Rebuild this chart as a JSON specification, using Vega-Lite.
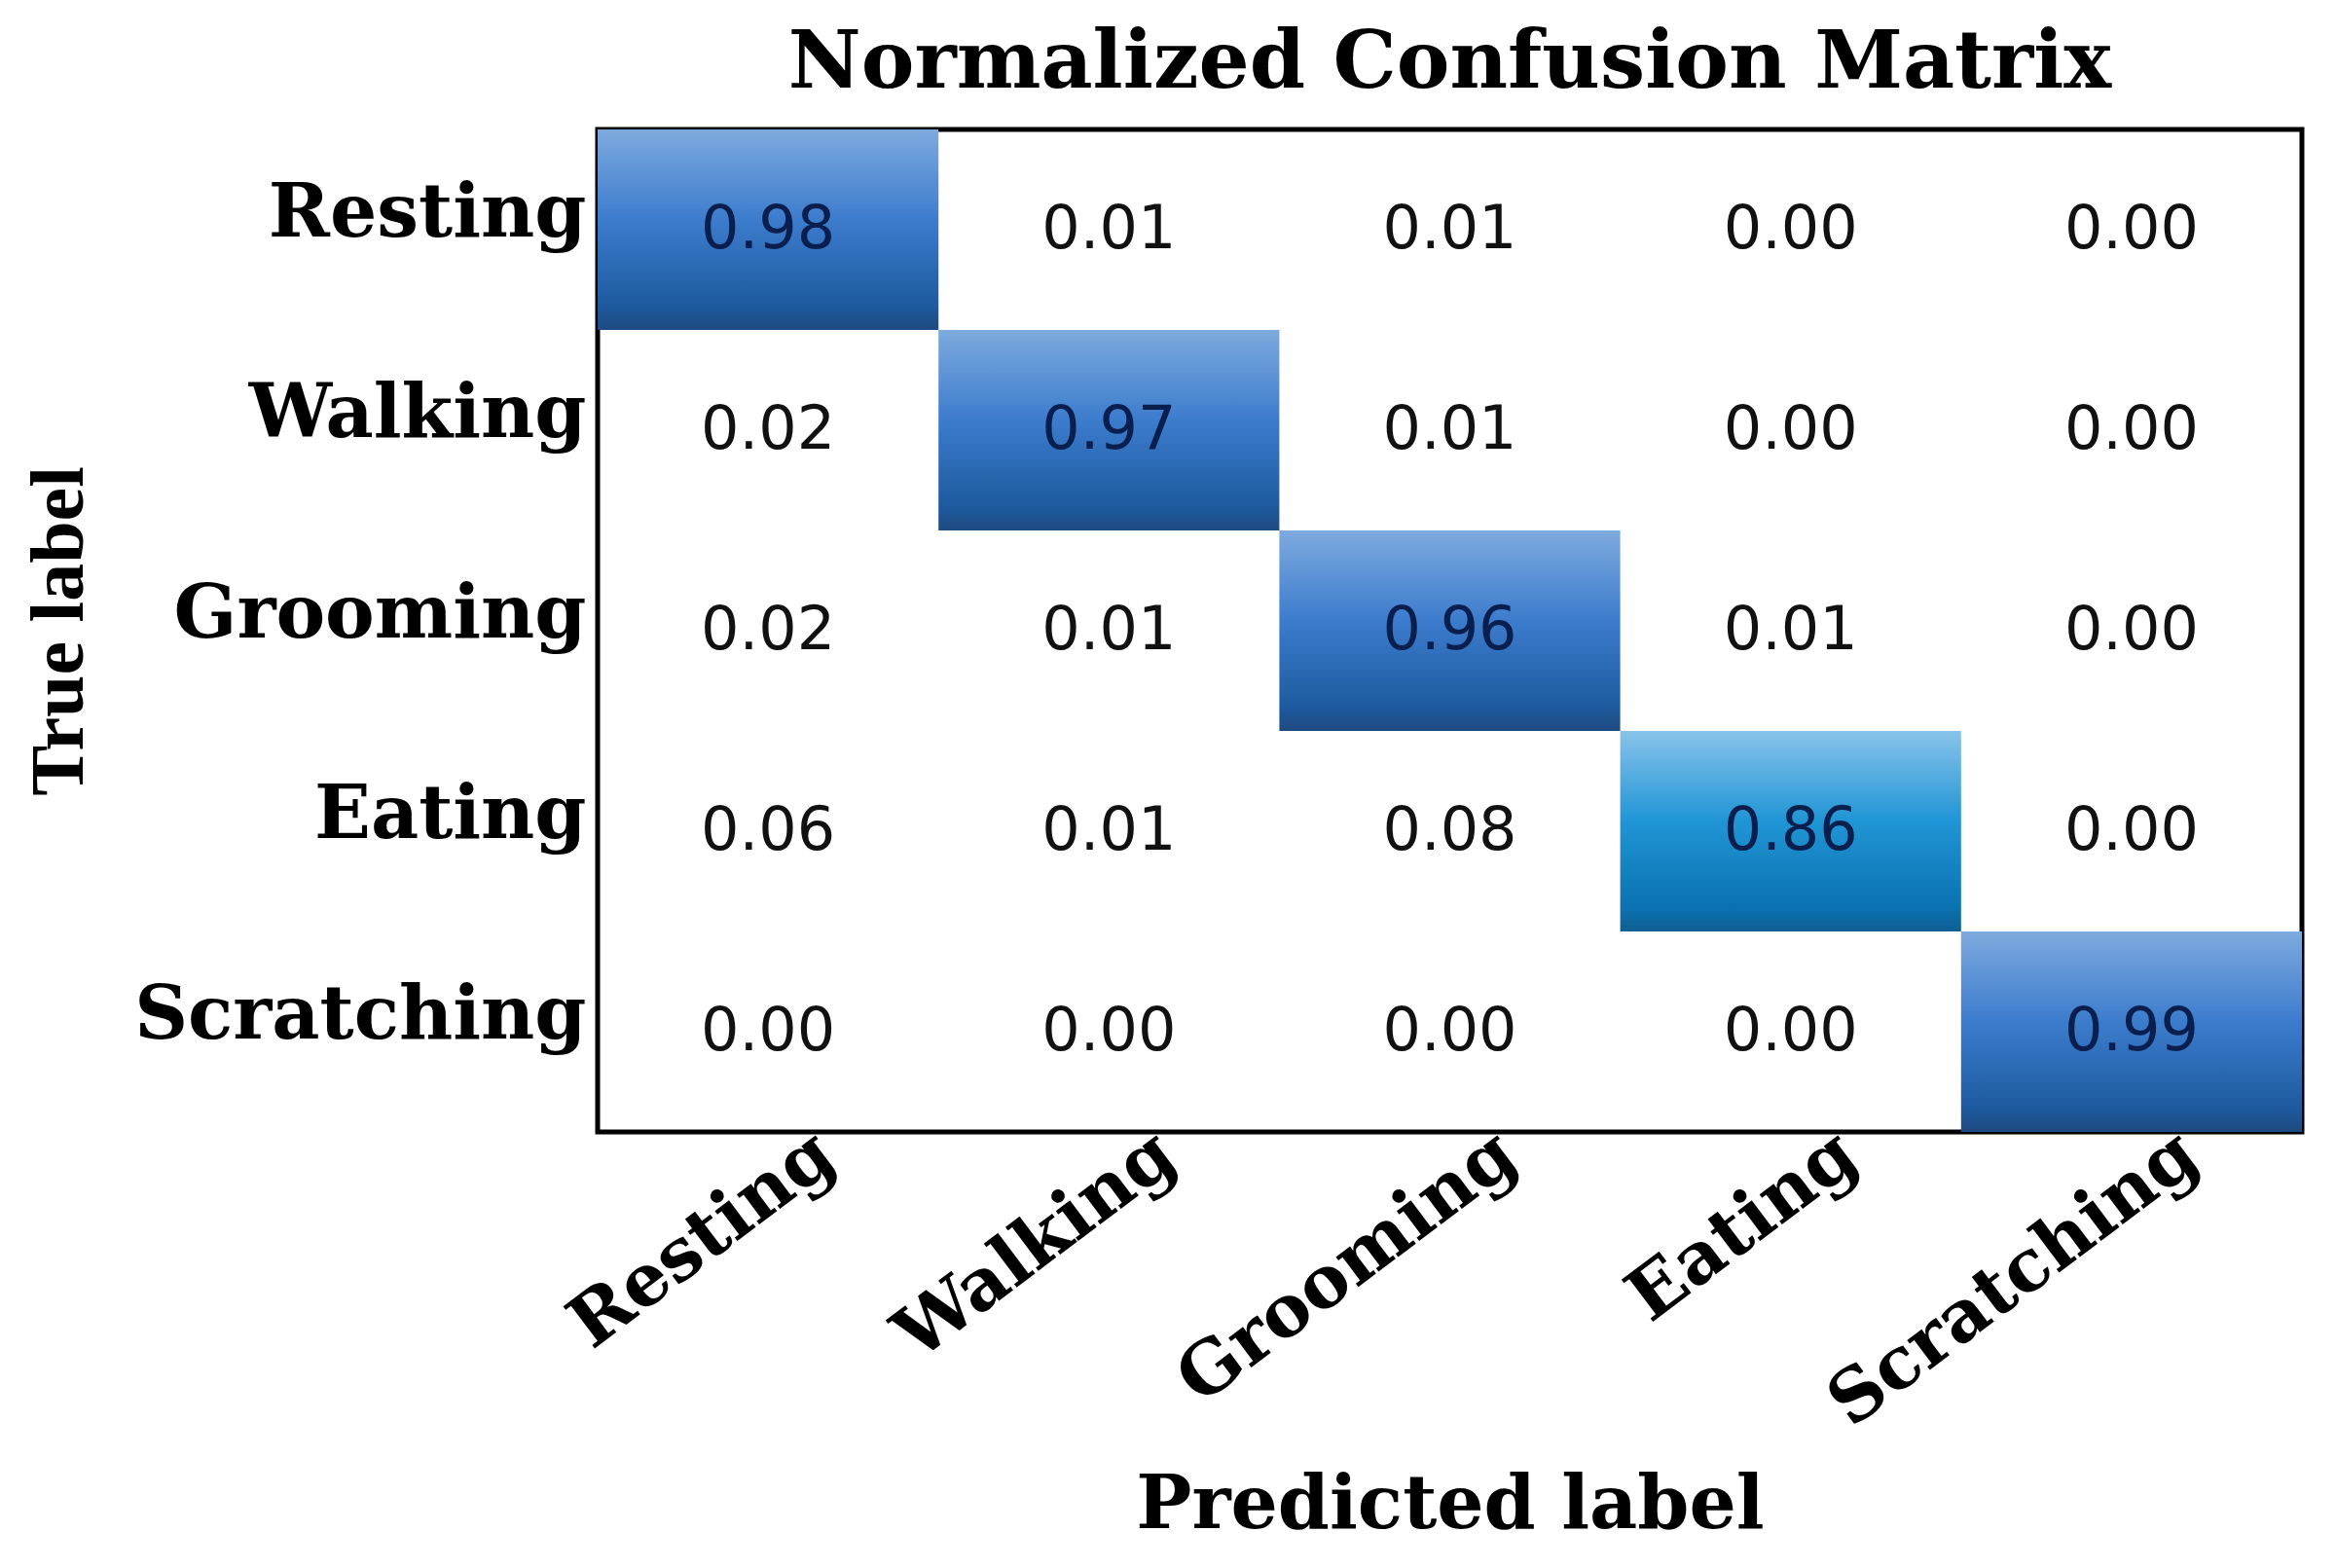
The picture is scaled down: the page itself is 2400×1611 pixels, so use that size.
{
  "$schema": "https://vega.github.io/schema/vega-lite/v6.json",
  "autosize": "none",
  "width": 1751,
  "height": 1030,
  "padding": {"left": 614, "top": 133, "right": 35, "bottom": 448},
  "background": "white",
  "title": {
    "text": "Normalized Confusion Matrix",
    "font": "DejaVu Serif",
    "fontWeight": "bold",
    "fontSize": 82,
    "color": "black",
    "anchor": "middle",
    "offset": 26
  },
  "config": {
    "view": {"stroke": "black", "strokeWidth": 5},
    "axis": {"domain": false, "ticks": false, "grid": false, "labelLimit": 1000}
  },
  "data": {
    "values": [
      {"true": "Resting", "pred": "Resting", "value": 0.98},
      {"true": "Resting", "pred": "Walking", "value": 0.01},
      {"true": "Resting", "pred": "Grooming", "value": 0.01},
      {"true": "Resting", "pred": "Eating", "value": 0.0},
      {"true": "Resting", "pred": "Scratching", "value": 0.0},
      {"true": "Walking", "pred": "Resting", "value": 0.02},
      {"true": "Walking", "pred": "Walking", "value": 0.97},
      {"true": "Walking", "pred": "Grooming", "value": 0.01},
      {"true": "Walking", "pred": "Eating", "value": 0.0},
      {"true": "Walking", "pred": "Scratching", "value": 0.0},
      {"true": "Grooming", "pred": "Resting", "value": 0.02},
      {"true": "Grooming", "pred": "Walking", "value": 0.01},
      {"true": "Grooming", "pred": "Grooming", "value": 0.96},
      {"true": "Grooming", "pred": "Eating", "value": 0.01},
      {"true": "Grooming", "pred": "Scratching", "value": 0.0},
      {"true": "Eating", "pred": "Resting", "value": 0.06},
      {"true": "Eating", "pred": "Walking", "value": 0.01},
      {"true": "Eating", "pred": "Grooming", "value": 0.08},
      {"true": "Eating", "pred": "Eating", "value": 0.86},
      {"true": "Eating", "pred": "Scratching", "value": 0.0},
      {"true": "Scratching", "pred": "Resting", "value": 0.0},
      {"true": "Scratching", "pred": "Walking", "value": 0.0},
      {"true": "Scratching", "pred": "Grooming", "value": 0.0},
      {"true": "Scratching", "pred": "Eating", "value": 0.0},
      {"true": "Scratching", "pred": "Scratching", "value": 0.99}
    ]
  },
  "encoding": {
    "x": {
      "field": "pred",
      "type": "nominal",
      "sort": ["Resting", "Walking", "Grooming", "Eating", "Scratching"],
      "scale": {"paddingInner": 0, "paddingOuter": 0},
      "axis": {
        "orient": "bottom",
        "title": "Predicted label",
        "titleFont": "DejaVu Serif",
        "titleFontWeight": "bold",
        "titleFontSize": 76,
        "titleColor": "black",
        "titleY": 383,
        "titleBaseline": "middle",
        "labelFont": "DejaVu Serif",
        "labelFontWeight": "bold",
        "labelFontSize": 74,
        "labelColor": "black",
        "labelAngle": -37,
        "labelAlign": "right",
        "labelBaseline": "middle",
        "labelOffset": 60,
        "labelPadding": 15
      }
    },
    "y": {
      "field": "true",
      "type": "nominal",
      "sort": ["Resting", "Walking", "Grooming", "Eating", "Scratching"],
      "scale": {"paddingInner": 0, "paddingOuter": 0},
      "axis": {
        "title": "True label",
        "titleFont": "Liberation Serif",
        "titleFontWeight": "bold",
        "titleFontSize": 78,
        "titleColor": "black",
        "titleX": -553,
        "titleBaseline": "middle",
        "labelFont": "DejaVu Serif",
        "labelFontWeight": "bold",
        "labelFontSize": 76,
        "labelColor": "black",
        "labelPadding": 12,
        "labelOffset": -16
      }
    }
  },
  "layer": [
    {
      "transform": [{"filter": "datum.value >= 0.9"}],
      "mark": {
        "type": "rect",
        "color": {
          "gradient": "linear",
          "x1": 0, "y1": 0, "x2": 0, "y2": 1,
          "stops": [
            {"offset": 0, "color": "#7eaade"},
            {"offset": 0.45, "color": "#3c7ccd"},
            {"offset": 0.88, "color": "#1d5a9f"},
            {"offset": 1, "color": "#1f4a80"}
          ]
        }
      },
      "encoding": {}
    },
    {
      "transform": [{"filter": "datum.value >= 0.5 && datum.value < 0.9"}],
      "mark": {
        "type": "rect",
        "color": {
          "gradient": "linear",
          "x1": 0, "y1": 0, "x2": 0, "y2": 1,
          "stops": [
            {"offset": 0, "color": "#88c3ea"},
            {"offset": 0.45, "color": "#2095d5"},
            {"offset": 0.88, "color": "#0b72b1"},
            {"offset": 1, "color": "#0d5f92"}
          ]
        }
      },
      "encoding": {}
    },
    {
      "mark": {"type": "text", "font": "DejaVu Sans", "fontSize": 62, "align": "center", "baseline": "middle"},
      "encoding": {
        "text": {"field": "value", "type": "quantitative", "format": ".2f"},
        "color": {
          "condition": {"test": "datum.value >= 0.5", "value": "#0a1f4d"},
          "value": "#111111"
        }
      }
    }
  ]
}
